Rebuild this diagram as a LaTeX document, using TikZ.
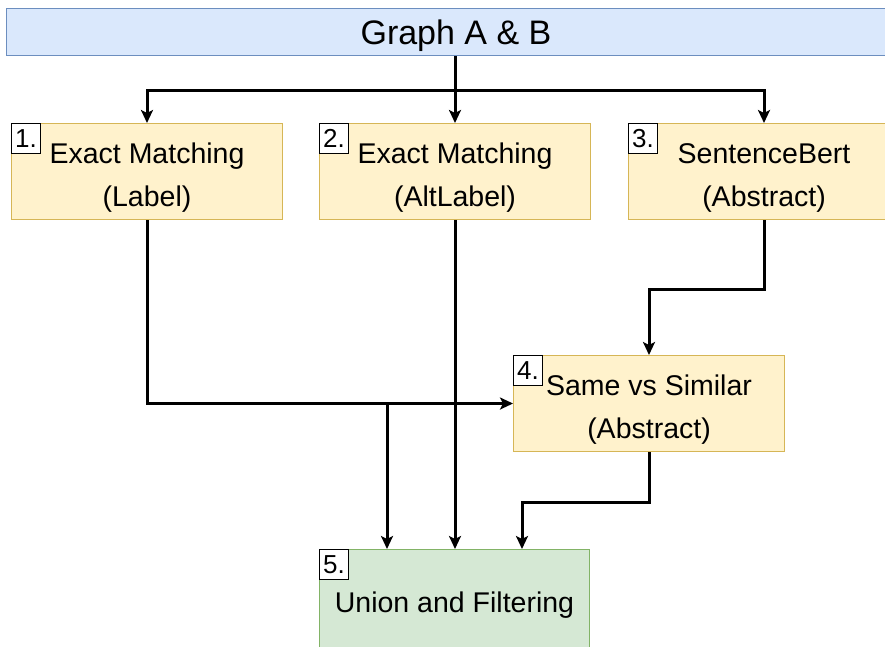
\documentclass[tikz,border=0pt]{standalone}
\usepackage{fontspec}
\setmainfont{Liberation Sans}
\usetikzlibrary{arrows.meta}
\definecolor{barfill}{HTML}{DAE8FC}
\definecolor{bardraw}{HTML}{6C8EBF}
\definecolor{yfill}{HTML}{FFF2CC}
\definecolor{ydraw}{HTML}{D6B656}
\definecolor{gfill}{HTML}{D5E8D4}
\definecolor{gdraw}{HTML}{82B366}
\tikzset{
  stepbox/.style={draw=ydraw, fill=yfill, line width=1pt, minimum width=271pt, minimum height=96pt, anchor=north west, inner sep=0pt},
  steptext/.style={align=center, inner sep=0pt, font=\fontsize{28.5}{43}\selectfont},
  numbox/.style={draw=black, fill=white, line width=0.8pt, minimum width=29pt, minimum height=30pt, anchor=north west, inner sep=0pt, font=\fontsize{26}{26}\selectfont},
  conn/.style={line width=3pt, -{Stealth[length=13pt,width=12pt,inset=3pt]}},
  plain/.style={line width=3pt}
}
\begin{document}
\begin{tikzpicture}[x=1pt,y=-1pt]
\useasboundingbox (0,0) rectangle (885,646);
\node[draw=bardraw, fill=barfill, line width=1pt, minimum width=899pt, minimum height=47pt, anchor=north west, inner sep=0pt] (bar) at (6,8) {};
\node[inner sep=0pt, font=\fontsize{34}{40}\selectfont] (title) at ([yshift=-4pt]bar.center) {Graph A \& B};
\node[stepbox] (b1) at (11,123) {};
\node[stepbox] (b2) at (319,123) {};
\node[stepbox] (b3) at (628,123) {};
\node[stepbox] (b4) at (513,355) {};
\node[draw=gdraw, fill=gfill, line width=1pt, minimum width=270pt, minimum height=106pt, anchor=north west, inner sep=0pt] (b5) at (319,549) {};
\node[steptext] (t1) at ([yshift=-6pt]b1.center) {Exact Matching\\(Label)};
\node[steptext] (t2) at ([yshift=-6pt]b2.center) {Exact Matching\\(AltLabel)};
\node[steptext] (t3) at ([yshift=-6pt]b3.center) {SentenceBert\\(Abstract)};
\node[steptext] (t4) at ([yshift=-6pt]b4.center) {Same vs Similar\\(Abstract)};
\node[steptext] (t5) at ([yshift=-3pt]b5.center) {Union and Filtering};
\node[numbox] (n1) at (b1.north west) {1.};
\node[numbox] (n2) at (b2.north west) {2.};
\node[numbox] (n3) at (b3.north west) {3.};
\node[numbox] (n4) at (b4.north west) {4.};
\node[numbox] (n5) at (b5.north west) {5.};
\coordinate (j) at (455,90);
\coordinate (k) at (387,404);
\coordinate (m) at (522,502);
\draw[plain] (j |- bar.south) -- (j);
\draw[conn] (j) -| (b1.north);
\draw[conn] (j) -| (b3.north);
\draw[conn] (j) -- (j |- b2.north);
\draw[conn] (b1.south) |- (b4.west);
\draw[conn] (k) -- (k |- b5.north);
\draw[conn] (b2.south) -- (b2.south |- b5.north);
\draw[conn] (b3.south) -- ++(0,69) -| (b4.north);
\draw[conn] (b4.south) |- (m) -- (m |- b5.north);
\end{tikzpicture}
\end{document}
